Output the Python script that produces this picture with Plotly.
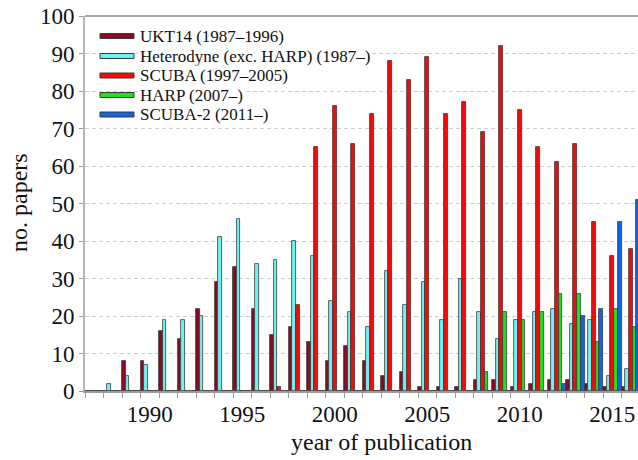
import plotly.graph_objects as go

# Publication years on the category axis
years = list(range(1987, 2017))

# Papers per year for each instrument (1987..2016)
ukt14 = [0, 0, 8, 8, 16, 14, 22, 29, 33, 22, 15, 17, 13, 8, 12, 8, 4, 5, 1, 1,
         1, 3, 3, 1, 2, 3, 3, 2, 1, 1]
heterodyne = [0, 2, 4, 7, 19, 19, 20, 41, 46, 34, 35, 40, 36, 24, 21, 17, 32, 23, 29, 19,
              30, 21, 14, 19, 21, 22, 18, 19, 4, 6]
scuba = [0, 0, 0, 0, 0, 0, 0, 0, 0, 0, 1, 23, 65, 76, 66, 74, 88, 83, 89, 74,
         77, 69, 92, 75, 65, 61, 66, 45, 36, 38]
harp = [0, 0, 0, 0, 0, 0, 0, 0, 0, 0, 0, 0, 0, 0, 0, 0, 0, 0, 0, 0,
        0, 5, 21, 19, 21, 26, 26, 13, 22, 17]
scuba2 = [0, 0, 0, 0, 0, 0, 0, 0, 0, 0, 0, 0, 0, 0, 0, 0, 0, 0, 0, 0,
          0, 0, 0, 0, 0, 2, 20, 22, 45, 51]

series_names = ["UKT14 (1987–1996)", "Heterodyne (exc. HARP) (1987–)",
                "SCUBA (1997–2005)", "HARP (2007–)", "SCUBA-2 (2011–)"]
series_values = [ukt14, heterodyne, scuba, harp, scuba2]
series_colors = ["#8c0a22", "#6ff2f2", "#f50a0a", "#1fe01f", "#1463e6"]

y_ticks = list(range(0, 101, 10))
x_ticks = [1990, 1995, 2000, 2005, 2010, 2015]

W, H = 638, 460
L, T, B = 85, 16, 69
px_per_year = 18.5
plot_w = W - L
plot_h = H - T - B

FONT = "Liberation Serif, Times New Roman, serif"


def px_x(x):
    return (x - L) / plot_w


def px_y(y):
    return (H - B - y) / plot_h


fig = go.Figure()
for name, vals, col in zip(series_names, series_values, series_colors):
    fig.add_trace(go.Bar(
        x=years, y=vals, name=name, showlegend=False,
        marker=dict(color=col, line=dict(color="#3a3a3a", width=0.8)),
    ))

# Hand-drawn legend: thin wide swatches with labels
leg_y = [36, 56, 75.5, 95, 114.5]
for name, col, yy in zip(series_names, series_colors, leg_y):
    fig.add_shape(type="rect", xref="paper", yref="paper",
                  x0=px_x(100), x1=px_x(134), y0=px_y(yy + 2.5), y1=px_y(yy - 2.5),
                  fillcolor=col, line=dict(color="#3a3a3a", width=1))
    fig.add_annotation(xref="paper", yref="paper", x=px_x(139), y=px_y(yy),
                       xanchor="left", yanchor="middle", showarrow=False,
                       text=name, font=dict(family=FONT, size=17, color="#111"),
                       bgcolor="white", borderpad=0)

# Frame line along the top of the plot area
fig.add_shape(type="line", xref="paper", yref="paper", x0=0, x1=1, y0=1, y1=1,
              line=dict(color="#8a8a8a", width=1.5))

fig.add_annotation(xref="paper", yref="paper", x=px_x(381), y=px_y(442),
                   showarrow=False, text="year of publication",
                   xanchor="center", yanchor="middle",
                   font=dict(family=FONT, size=24, color="#111"))
fig.add_annotation(xref="paper", yref="paper", x=px_x(19), y=px_y(203),
                   showarrow=False, textangle=-90, text="no. papers",
                   xanchor="center", yanchor="middle",
                   font=dict(family=FONT, size=24, color="#111"))

fig.update_layout(
    width=W, height=H,
    margin=dict(l=L, r=0, t=T, b=B, pad=0),
    paper_bgcolor="white", plot_bgcolor="white",
    barmode="group", bargap=0, bargroupgap=0,
    font=dict(family=FONT, size=23, color="#111"),
    xaxis=dict(
        range=[1986.5, 1986.5 + plot_w / px_per_year],
        tickmode="array", tickvals=x_ticks, ticks="", ticklen=0,
        ticklabelstandoff=2,
        showgrid=False, zeroline=False,
        showline=True, linecolor="#9a9a9a", linewidth=1.5,
        minor=dict(tickmode="linear", tick0=1986.5, dtick=1, ticks="outside",
                   ticklen=5, tickcolor="#9a9a9a", tickwidth=1, showgrid=False),
        tickfont=dict(family=FONT, size=23, color="#111"),
    ),
    yaxis=dict(
        range=[0, 100], tickmode="array", tickvals=y_ticks,
        ticks="outside", ticklen=4, tickcolor="#9a9a9a",
        showgrid=True, gridcolor="#cfcfcf", griddash="4px,3px", gridwidth=1,
        zeroline=False, showline=True, linecolor="#b5b5b5", linewidth=2,
        tickfont=dict(family=FONT, size=23, color="#111"),
    ),
)

fig.write_html("out.html")
